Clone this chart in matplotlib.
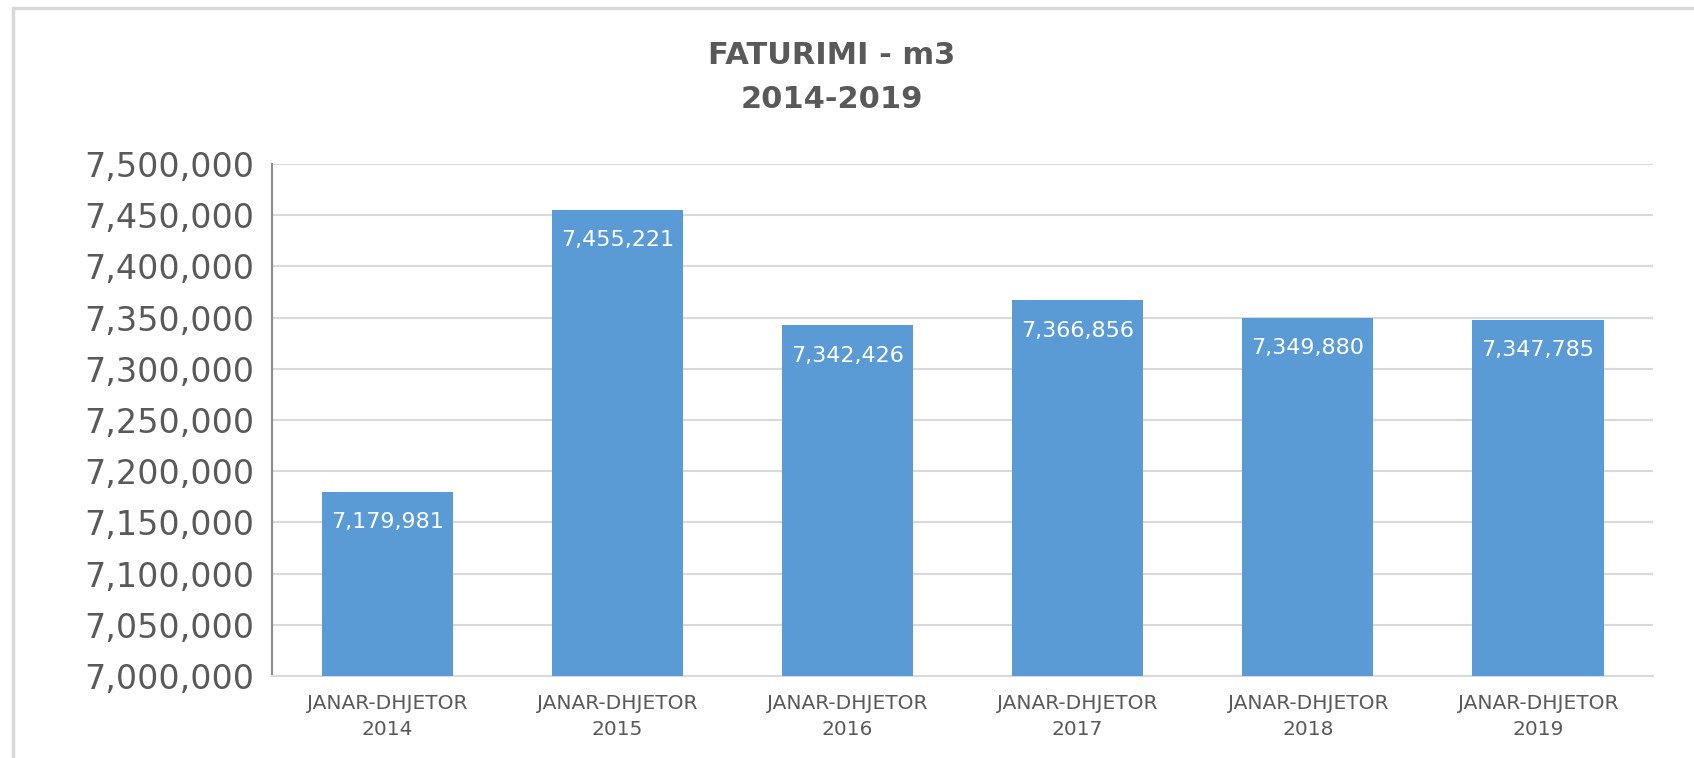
import numpy as np
import matplotlib as mpl
mpl.use('Agg')
from matplotlib import pyplot as plt
from matplotlib.ticker import FuncFormatter
from matplotlib.patches import Rectangle

# Data
categories = ["JANAR-DHJETOR\n2014", "JANAR-DHJETOR\n2015", "JANAR-DHJETOR\n2016",
              "JANAR-DHJETOR\n2017", "JANAR-DHJETOR\n2018", "JANAR-DHJETOR\n2019"]
values = [7179981, 7455221, 7342426, 7366856, 7349880, 7347785]
y_ticks = np.arange(7000000, 7500001, 50000)

bar_color = "#5B9BD5"
text_color = "#595959"
grid_color = "#D9D9D9"

fig = plt.figure(figsize=(16.94, 7.58), dpi=100)
ax = fig.add_axes([0.1606, 0.1082, 0.8152, 0.6754])

# light chart border (only the left and top edges show in the picture)
fig.patches.append(Rectangle((13 / 1694, -0.1), 2, 1.1 - 8 / 758, transform=fig.transFigure,
                             fill=False, edgecolor="#D9D9D9", linewidth=2.5))

x = np.arange(len(values))
bars = ax.bar(x, values, width=0.57, color=bar_color, zorder=3)

for xi, v in zip(x, values):
    ax.annotate(f"{v:,}", (xi, v), xytext=(0, -22), textcoords="offset points",
                ha="center", va="center", color="white", fontsize=16, zorder=4)

ax.set_xlim(-0.5, len(values) - 0.5)
ax.set_ylim(7000000, 7500000)
ax.set_yticks(y_ticks)
ax.yaxis.set_major_formatter(FuncFormatter(lambda v, p: f"{int(v):,}"))
ax.set_xticks(x)
ax.set_xticklabels(categories, fontsize=14.5, color=text_color, linespacing=1.45)
ax.tick_params(axis="y", length=0, pad=13, labelsize=24, labelcolor=text_color)
ax.tick_params(axis="x", length=0, pad=13)

ax.grid(axis="y", color=grid_color, linewidth=1.5, zorder=0)
for side in ["top", "right"]:
    ax.spines[side].set_visible(False)
ax.spines["left"].set_color("#8C8C8C")
ax.spines["left"].set_linewidth(1.5)
ax.spines["bottom"].set_color(grid_color)
ax.spines["bottom"].set_linewidth(1.5)

fig.text(0.491, 1 - 55 / 758, "FATURIMI - m3", ha="center", va="center",
         fontsize=22, fontweight="bold", color=text_color)
fig.text(0.491, 1 - 100 / 758, "2014-2019", ha="center", va="center",
         fontsize=22, fontweight="bold", color=text_color)

fig.savefig("out.png", dpi=100)
